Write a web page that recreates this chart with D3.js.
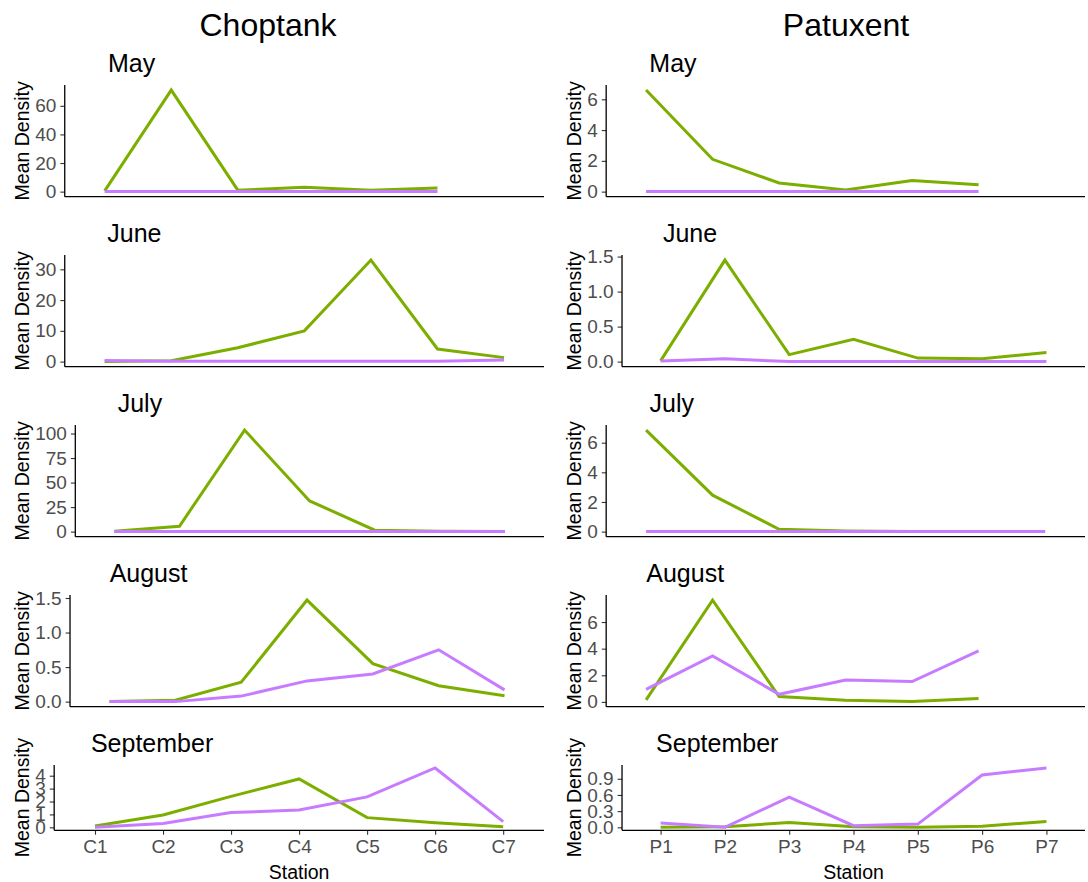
<!DOCTYPE html>
<html>
<head>
<meta charset="utf-8">
<script src="https://cdn.jsdelivr.net/npm/d3@7"></script>
<style>
  html, body { margin: 0; padding: 0; background: #fff; }
  svg { display: block; font-family: "Liberation Sans", Arial, sans-serif; }
  .tick-lbl { fill: #4d4d4d; font-size: 19px; }
  .axis-title { fill: #000; font-size: 19.5px; }
  .month-title { fill: #000; font-size: 25px; }
  .river-title { fill: #000; font-size: 32px; }
</style>
</head>
<body>
<svg id="chart"></svg>
<script>
const RIVERS   = ["Choptank", "Patuxent"];
const MONTHS   = ["May", "June", "July", "August", "September"];
const STATIONS = [
  ["C1", "C2", "C3", "C4", "C5", "C6", "C7"],
  ["P1", "P2", "P3", "P4", "P5", "P6", "P7"],
];

// one row per month, one value per station (null = not sampled)
const choptankGreen = [
  [0.5, 71, 1, 3, 1, 2.5, null],
  [0, 0.3, 4.5, 10, 33, 4.1, 1.3],
  [0.5, 5.5, 103.5, 31.3, 1.5, 0.3, 0.2],
  [0, 0.02, 0.28, 1.47, 0.55, 0.23, 0.085],
  [0.1, 0.96, 2.4, 3.75, 0.75, 0.36, 0.05],
];
const choptankPurple = [
  [0, 0, 0, 0, 0, 0, null],
  [0.4, 0.1, 0.1, 0.1, 0.1, 0.1, 0.5],
  [0, 0, 0, 0, 0, 0, 0],
  [0, 0, 0.08, 0.3, 0.4, 0.75, 0.17],
  [0, 0.29, 1.14, 1.35, 2.36, 4.6, 0.44],
];
const patuxentGreen = [
  [6.6, 2.1, 0.56, 0.1, 0.73, 0.45, null],
  [0.01, 1.45, 0.1, 0.32, 0.05, 0.04, 0.13],
  [6.85, 2.46, 0.16, 0.05, 0, 0, 0],
  [0.15, 7.65, 0.4, 0.12, 0.02, 0.25, null],
  [0, 0.01, 0.09, 0.01, 0, 0.02, 0.11],
];
const patuxentPurple = [
  [0, 0, 0, 0, 0, 0, null],
  [0.01, 0.04, 0, 0, 0, 0, 0],
  [0, 0, 0, 0, 0, 0, 0],
  [0.94, 3.46, 0.57, 1.65, 1.53, 3.83, null],
  [0.08, 0, 0.56, 0.03, 0.06, 0.97, 1.1],
];

const choptankTicks = [
  ["0", "20", "40", "60"],
  ["0", "10", "20", "30"],
  ["0", "25", "50", "75", "100"],
  ["0.0", "0.5", "1.0", "1.5"],
  ["0", "1", "2", "3", "4"],
];
const patuxentTicks = [
  ["0", "2", "4", "6"],
  ["0.0", "0.5", "1.0", "1.5"],
  ["0", "2", "4", "6"],
  ["0", "2", "4", "6"],
  ["0.0", "0.3", "0.6", "0.9"],
];

const GREEN  = "#7cae00";
const PURPLE = "#c77cff";

const W = 1088, H = 882;
const COL_LEFT  = [0, 552];
const COL_RIGHT = [544, 1085];
const ROW_TOP    = [85, 255, 425, 595, 765];
const ROW_BOTTOM = [196.7, 366.7, 536.7, 706.7, 830.3];
const TITLE_CENTER = [268, 846];

const svg = d3.select("#chart").attr("width", W).attr("height", H);

function textWidth(str, cls) {
  const t = svg.append("text").attr("class", cls).text(str);
  const w = t.node().getComputedTextLength();
  t.remove();
  return w;
}

function drawPanel(col, row) {
  const green  = (col === 0 ? choptankGreen : patuxentGreen)[row];
  const purple = (col === 0 ? choptankPurple : patuxentPurple)[row];
  const labels = (col === 0 ? choptankTicks : patuxentTicks)[row];
  const stations = STATIONS[col];
  const isLast = row === MONTHS.length - 1;

  const maxLbl = d3.max(labels, l => textWidth(l, "tick-lbl"));
  const left   = COL_LEFT[col] + 34 + maxLbl + 9.6;
  const right  = COL_RIGHT[col];
  const top    = ROW_TOP[row];
  const bottom = ROW_BOTTOM[row];

  // ggplot style 5% expansion
  const vals = green.concat(purple).filter(v => v != null);
  const lo = d3.min(vals), hi = d3.max(vals);
  const pad = (hi - lo) * 0.05;

  const x = d3.scalePoint().domain(stations).range([left, right]).padding(0.6);
  const y = d3.scaleLinear().domain([lo - pad, hi + pad]).range([bottom, top]);

  const g = svg.append("g");

  // y axis
  const yAx = g.append("g")
    .attr("transform", `translate(${left},0)`)
    .call(d3.axisLeft(y)
      .tickValues(labels.map(Number))
      .tickFormat((d, i) => labels[i])
      .tickSize(4.4).tickSizeOuter(0).tickPadding(4));
  yAx.select(".domain").remove();
  yAx.selectAll(".tick line").attr("stroke", "#333").attr("stroke-width", 1.1);
  yAx.selectAll(".tick text").attr("class", "tick-lbl").attr("fill", null);
  yAx.attr("font-size", null).attr("font-family", null);

  // x axis
  const xAx = g.append("g")
    .attr("transform", `translate(0,${bottom})`)
    .call(d3.axisBottom(x).tickSize(isLast ? 4.4 : 0).tickSizeOuter(0).tickPadding(5));
  xAx.select(".domain").remove();
  xAx.attr("font-size", null).attr("font-family", null);
  xAx.selectAll(".tick line").attr("stroke", "#333").attr("stroke-width", 1.1);
  if (isLast) {
    xAx.selectAll(".tick text").attr("class", "tick-lbl").attr("fill", null)
      .attr("dy", null).attr("y", 23);
  } else {
    xAx.selectAll(".tick").remove();
  }

  // axis lines (classic theme)
  g.append("line")
    .attr("x1", left).attr("x2", left).attr("y1", top).attr("y2", bottom)
    .attr("stroke", "#000").attr("stroke-width", 1.3);
  g.append("line")
    .attr("x1", left).attr("x2", right).attr("y1", bottom).attr("y2", bottom)
    .attr("stroke", "#000").attr("stroke-width", 1.3);

  const line = d3.line()
    .defined(d => d.v != null)
    .x(d => x(d.s))
    .y(d => y(d.v));

  [[green, GREEN], [purple, PURPLE]].forEach(([series, color]) => {
    g.append("path")
      .datum(series.map((v, i) => ({ s: stations[i], v })))
      .attr("fill", "none")
      .attr("stroke", color)
      .attr("stroke-width", 3)
      .attr("d", line);
  });

  // y axis title
  g.append("text")
    .attr("class", "axis-title")
    .attr("text-anchor", "middle")
    .attr("transform", `translate(${COL_LEFT[col] + 28.5},${(top + bottom) / 2}) rotate(-90)`)
    .text("Mean Density");

  if (isLast) {
    g.append("text")
      .attr("class", "axis-title")
      .attr("text-anchor", "middle")
      .attr("x", (left + right) / 2)
      .attr("y", 879)
      .text("Station");
  }

  // month title, hjust 0.1 over the panel
  const tw = textWidth(MONTHS[row], "month-title");
  g.append("text")
    .attr("class", "month-title")
    .attr("x", left + 0.1 * (right - left) - 0.1 * tw)
    .attr("y", top - 13)
    .text(MONTHS[row]);
}

RIVERS.forEach((river, col) => {
  svg.append("text")
    .attr("class", "river-title")
    .attr("text-anchor", "middle")
    .attr("x", TITLE_CENTER[col])
    .attr("y", 36)
    .text(river);
  MONTHS.forEach((m, row) => drawPanel(col, row));
});
</script>
</body>
</html>
